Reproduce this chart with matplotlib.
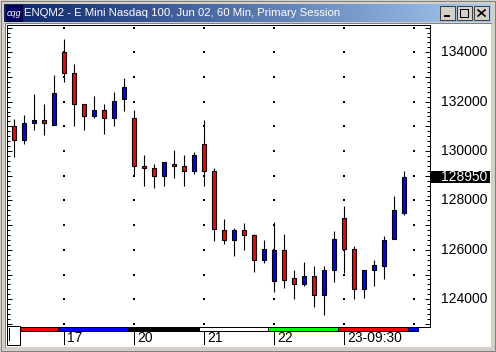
import numpy as np
import matplotlib
matplotlib.use("Agg")
import matplotlib.pyplot as plt
from matplotlib.patches import Rectangle

TITLE = "ENQM2 - E Mini Nasdaq 100, Jun 02, 60 Min, Primary Session"
opens = [131000,130450,131125,131275,131075,134000,133150,131900,131425,131650,131325,132100,131325,129400,129300,129000,129475,129400,129175,130300,
         129175,126800,126400,126800,126600,125575,124725,126000,124850,124625,124925,124175,125200,127275,126050,124400,125200,125350,126425,127500]
highs = [131300,131450,132300,131900,133075,134550,133525,131925,132225,131900,132400,132950,131650,129850,129475,129550,130050,129850,129975,131250,
         129300,127250,126875,127100,126650,126400,127125,126650,125175,125500,125350,125325,126750,127775,126150,125200,125575,126550,128175,129200]
lows = [129775,130300,130850,130650,131075,132800,131000,130850,131350,130700,131000,131625,129050,128600,128500,128600,128900,128600,129075,128600,
        126350,126225,125750,126000,125100,125475,124300,124450,124000,124525,123675,123350,124700,125050,124000,124050,124525,124825,126425,127400]
closes = [130450,131125,131275,131125,132350,133150,131900,131425,131650,131325,132025,132575,129375,129325,129000,129550,129375,129175,129825,129200,
          126825,126400,126800,126600,125600,126025,126000,124775,124625,124925,124175,125200,126425,126050,124400,125200,125375,126400,127600,128950]
y_major = [134000,132000,130000,128000,126000,124000]
last_price = 128950
session_ticks = [5, 12, 19, 26, 33]
session_labels = ["17", "20", "21", "22", "23-09:30"]
grid_bars = [5, 12, 19, 26, 33, 40]
strip_colors = ["#ff0000", "#0000ff", "#000000", "#ffffff", "#00ff00", "#ff0000", "#0000ff"]

W, H = 496, 352
plt.rcParams['font.family'] = ['Liberation Sans', 'DejaVu Sans']
fig = plt.figure(figsize=(W/100, H/100), dpi=100, facecolor="white")
PX = 0.72  # one pixel in points

# window chrome, pixel coordinates
bg = fig.add_axes([0, 0, 1, 1])
bg.axis("off")
GR = "#d4d0c8"
c0 = np.array([0x0a, 0x24, 0x6a]) / 255
c1 = np.array([0xa6, 0xca, 0xf0]) / 255
t = np.linspace(0, 1, 256)[None, :, None]
bg.imshow(c0 + (c1 - c0) * t, extent=(4, 491, 22, 4), aspect="auto", interpolation="bilinear", zorder=1)
bg.set_xlim(0, W); bg.set_ylim(H, 0)
bg.add_patch(Rectangle((0, 0), W, H, fc=GR, ec="none", zorder=0))
bg.add_patch(Rectangle((0.5, 0.5), W-1.5, H-1.5, fc="none", ec="#808080", lw=PX, zorder=0.5))
bg.add_patch(Rectangle((5, 23), 486, 324, fc="white", ec="none", zorder=0.5))
bg.plot([5, 5, 491], [347, 23, 23], color="#808080", lw=PX, zorder=0.6)
bg.add_patch(Rectangle((6, 5), 16, 16, fc="#000066", ec="#000033", lw=PX, zorder=2))
bg.text(14, 13, "cqg", color="white", fontsize=6.5, style="italic", ha="center", va="center", zorder=3)
bg.text(24.5, 13, TITLE, color="white", fontsize=8.2, ha="left", va="center", zorder=3)
for bx, glyph in zip([440, 457, 474], ["min", "max", "x"]):
    bg.add_patch(Rectangle((bx, 6), 15, 14, fc=GR, ec="#404040", lw=PX, zorder=2))
    if glyph == "min":
        bg.plot([bx+4, bx+10], [16, 16], color="black", lw=1.4, zorder=3, solid_capstyle="butt")
    elif glyph == "max":
        bg.add_patch(Rectangle((bx+3, 9), 8, 8, fc="none", ec="black", lw=PX, zorder=3))
    else:
        bg.plot([bx+4, bx+11], [10, 16], color="black", lw=1.2, zorder=3)
        bg.plot([bx+4, bx+11], [16, 10], color="black", lw=1.2, zorder=3)

# price pane
L, R, T, B = 6.5, 430.0, 25.0, 327.3
ax = fig.add_axes([L/W, 1-B/H, (R-L)/W, (B-T)/H], facecolor="white")
px_per_bar = 10.0
ax.set_xlim((L-14.3)/px_per_bar, (R-14.3)/px_per_bar)
val = lambda py: 134000 - (py-52.3)*40.5
ax.set_ylim(val(B), val(T))

x = np.arange(len(opens))
op, hi, lo, cl = map(np.array, (opens, highs, lows, closes))
colors = ["#0000ff" if c > o else "#ff0000" for o, c in zip(op, cl)]
ax.vlines(x, lo, hi, color="black", lw=0.8, zorder=2)
ax.bar(x, np.abs(cl-op), 0.4, bottom=np.minimum(op, cl), color=colors, edgecolor="black", lw=0.8, zorder=3)

grid_y = np.arange(123000, 135001, 1000)
GX, GY = np.meshgrid(np.array(grid_bars, float), grid_y)
ax.scatter(GX.ravel(), GY.ravel(), s=2.2, marker="s", color="black", lw=0, zorder=1)

ax.set_yticks(grid_y)
ax.set_yticks(np.arange(123000, 135001, 200), minor=True)
ax.tick_params(axis="y", which="major", direction="in", length=3.6, width=PX, right=True, left=True, labelright=False, labelleft=False)
ax.tick_params(axis="y", which="minor", direction="in", length=1.9, width=PX, right=True, left=True)
ax.set_xticks([])
for s in ax.spines.values():
    s.set_color("black"); s.set_linewidth(PX)

fs = 10
for v in y_major:
    bg.text(487, 52.3 + (134000-v)/40.5, str(v), fontsize=fs, color="black", ha="right", va="center", zorder=5)
ypx = 52.3 + (134000-last_price)/40.5
bg.add_patch(Rectangle((430, ypx-6), 60, 12, fc="black", ec="none", zorder=4))
bg.text(487, ypx, str(last_price), fontsize=fs, color="white", ha="right", va="center", zorder=5)
bg.set_zorder(0); ax.set_zorder(1)

# session strip and date axis, pixel coordinates
fg = fig.add_axes([0, 0, 1, 1], facecolor="none")
fg.set_xlim(0, W); fg.set_ylim(H, 0); fg.axis("off"); fg.set_zorder(2)
edges = [19.5, 58.5, 128.5, 199.5, 268.5, 338.5, 408.5, 419]
fg.add_patch(Rectangle((19.5, 326.5), 399.5, 5, fc="black", ec="none"))
for a, b, c in zip(edges[:-1], edges[1:], strip_colors):
    fg.add_patch(Rectangle((a+0.5, 327.5), b-a-1, 3, fc=c, ec="none"))
fg.add_patch(Rectangle((6.5, 325.5), 13, 19.5, fc="white", ec="black", lw=PX))
fg.plot([8.5, 8.5], [328, 340], color="black", lw=PX)
for s, lab in zip(session_ticks, session_labels):
    xp = 14.3 + px_per_bar*s
    fg.plot([xp, xp], [331, 344], color="black", lw=PX)
    fg.text(xp+3, 338.5, lab, fontsize=fs, color="black", ha="left", va="center")

fig.savefig("out.png", dpi=100)
